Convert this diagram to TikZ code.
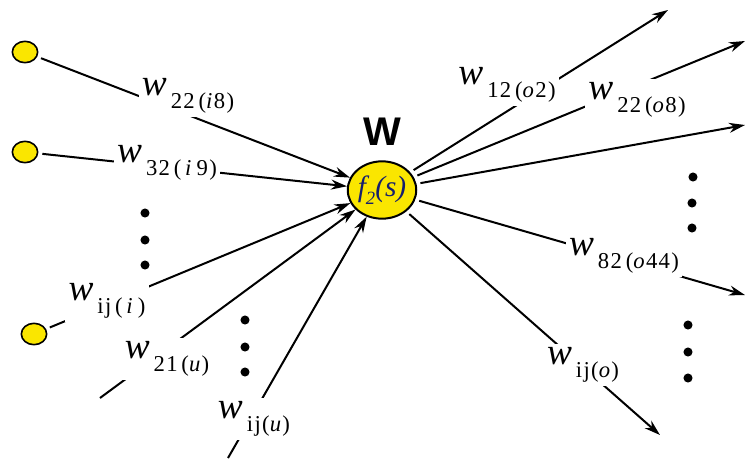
\documentclass[tikz,border=0pt]{standalone}
\usepackage{fontspec}
\setmainfont{Liberation Serif}
\newfontfamily\headfont{Liberation Sans}
\newfontfamily\subfont[LetterSpace=6]{Liberation Serif}
\usetikzlibrary{arrows.meta,positioning,shapes.geometric}
\definecolor{ylw}{RGB}{250,230,0}
\definecolor{deepblue}{RGB}{20,30,110}
% weight label: w with a lowered subscript
\newcommand{\wl}[1]{\textit{w}\hspace{3pt}\raisebox{-10pt}{\fontsize{17}{17}\subfont #1}}

\begin{document}
\begin{tikzpicture}[x=0.75pt,y=-0.75pt,
  inp/.style={ellipse, draw, line width=1.2pt, fill=ylw, minimum width=19pt, minimum height=16pt, inner sep=0pt},
  unit/.style={ellipse, draw, line width=1.5pt, fill=ylw, minimum width=48pt, minimum height=43pt, inner sep=0pt, text=deepblue, font=\fontsize{22}{22}\selectfont},
  lbl/.style={fill=white, inner sep=2.5pt, font=\fontsize{28}{28}\selectfont},
  arr/.style={line width=1.5pt, -{Stealth[length=12pt,width=7.5pt]}}
]
\useasboundingbox (0,0) rectangle (746,461);

% neuron
\node[unit] (W) at (382,190) {\itshape f\raisebox{-6pt}{\fontsize{14}{14}\selectfont 2}(s)};
\node[above=11pt of W, inner sep=0pt, font=\headfont\bfseries\fontsize{30}{30}\selectfont] (Wlab) {W};

% inputs
\node[inp] (in1) at (25,52) {};
\node[inp] (in2) at (25,152) {};
\node[inp] (in3) at (34,334) {};
\coordinate (s4) at (100,398);
\coordinate (s5) at (228,458);

% outputs
\coordinate (o1) at (668,10);
\coordinate (o2) at (745,41);
\coordinate (o3) at (745,125);
\coordinate (o4) at (745,295);
\coordinate (o5) at (660,435);

\draw[arr, shorten <=3pt] (in1) -- (W);
\draw[arr, shorten <=3pt] (in2) -- (W);
\draw[arr, shorten <=3pt] (in3) -- (W);
\draw[arr] (s4) -- (W);
\draw[arr] (s5) -- (W);

\foreach \o in {o1,o2,o3,o4,o5}
  \draw[arr, shorten <=3pt] (W) -- (\o);

% weight labels
\node[lbl] (l1) at (188,96) {\wl{22\,(\textit{i}8)}};
\node[lbl] (l2) at (167,163) {\wl{32\,(\,\textit{i}\,9)}};
\node[lbl] (l3) at (107,301) {\wl{ij\,(\,\textit{i}\,)}};
\node[lbl] (l4) at (167,359) {\wl{21\,(\textit{u})}};
\node[lbl] (l5) at (254,419) {\wl{ij(\textit{u})}};
\node[lbl] (r1) at (507,85) {\wl{12\,(\textit{o}2)}};
\node[lbl] (r2) at (637,100) {\wl{22\,(\textit{o}8)}};
\node[lbl] (r4) at (624,256) {\wl{82\,(\textit{o}44)}};
\node[lbl] (r5) at (583,365) {\wl{ij(\textit{o})}};

% dots
\foreach \p in {(145,213),(145,240),(145,265),(245,320),(245,347),(245,372),
                (693,177),(692,203),(692,228),(688,325),(688,352),(688,378)}
  \fill \p circle (3.4pt);
\end{tikzpicture}
\end{document}
